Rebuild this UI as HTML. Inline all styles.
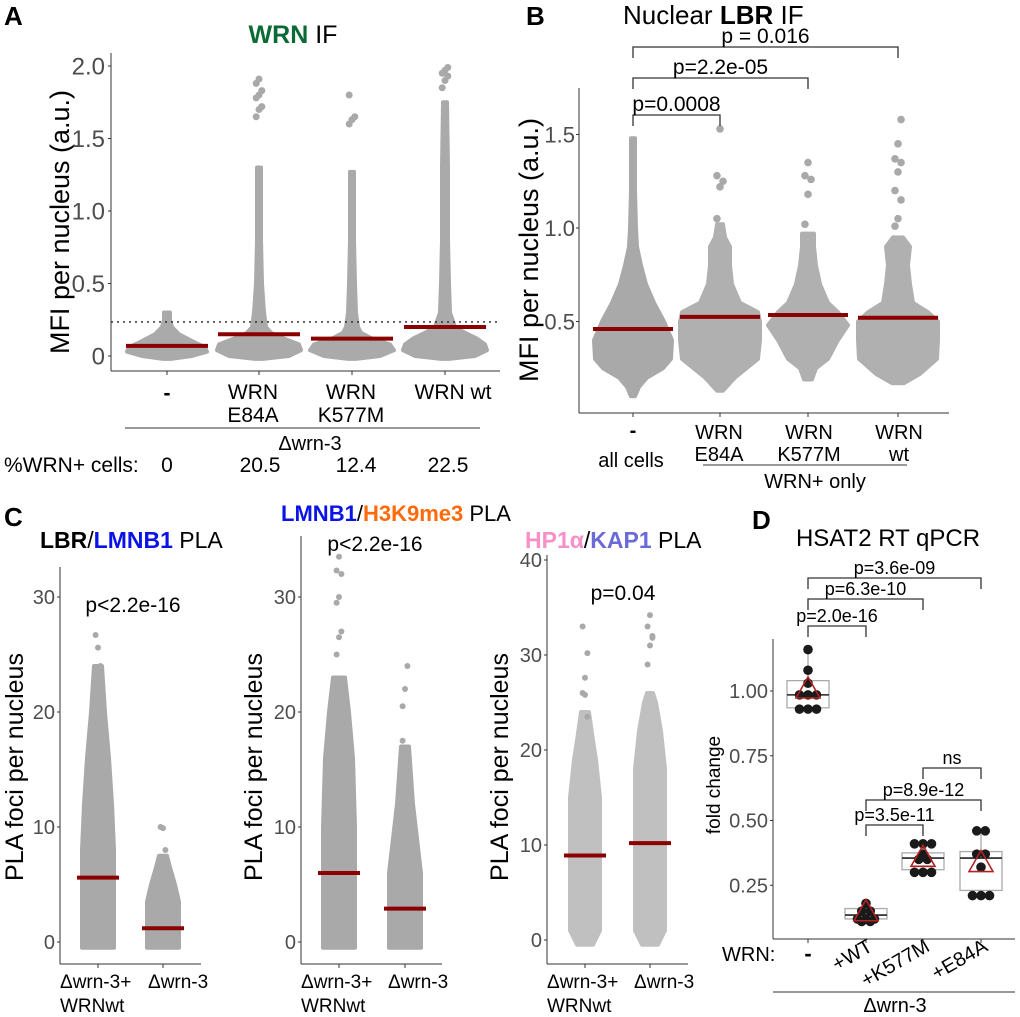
<!DOCTYPE html>
<html><head><meta charset="utf-8"><style>
html,body{margin:0;padding:0;background:#fff;}
svg{display:block;font-family:"Liberation Sans",Arial,sans-serif;}
.tk{fill:#4d4d4d;}
</style></head><body>
<svg id="fig" width="1020" height="1017" viewBox="0 0 1020 1017" xmlns="http://www.w3.org/2000/svg">
<g id="pA">
<text x="4" y="25" font-size="26" font-weight="bold">A</text>
<text x="293" y="43" font-size="25" text-anchor="middle"><tspan fill="#0a6b35" font-weight="bold">WRN</tspan> IF</text>
<text transform="translate(69,222) rotate(-90)" font-size="27" text-anchor="middle">MFI per nucleus (a.u.)</text>
<line x1="111" y1="53" x2="111" y2="371" stroke="#333" stroke-width="1"/>
<line x1="111" y1="371" x2="500" y2="371" stroke="#333" stroke-width="1"/>
<g font-size="21" text-anchor="middle">
<text x="167" y="400" font-weight="bold">-</text>
<text x="253" y="399">WRN</text><text x="253" y="422">E84A</text>
<text x="351" y="399">WRN</text><text x="351" y="422">K577M</text>
<text x="453" y="399">WRN wt</text>
</g>
<line x1="125" y1="428" x2="480" y2="428" stroke="#333"/>
<text x="310" y="450" font-size="20" text-anchor="middle">Δwrn-3</text>
<g font-size="21">
<text x="4" y="472">%WRN+ cells:</text>
<text x="167" y="472" text-anchor="middle">0</text>
<text x="260" y="472" text-anchor="middle">20.5</text>
<text x="356" y="472" text-anchor="middle">12.4</text>
<text x="448" y="472" text-anchor="middle">22.5</text>
</g>
</g>
<g id="pB">
<text x="526" y="25" font-size="26" font-weight="bold">B</text>
<text x="623" y="24" font-size="26">Nuclear <tspan font-weight="bold">LBR</tspan> IF</text>
<text transform="translate(538,250) rotate(-90)" font-size="27" text-anchor="middle">MFI per nucleus (a.u.)</text>
<line x1="579" y1="88" x2="579" y2="413" stroke="#333"/>
<line x1="579" y1="413" x2="949" y2="413" stroke="#333"/>
<g font-size="20" text-anchor="middle">
<text x="633" y="437" font-weight="bold">-</text><text x="631" y="467">all cells</text>
<text x="719" y="439">WRN</text><text x="719" y="461">E84A</text>
<text x="809" y="439">WRN</text><text x="809" y="461">K577M</text>
<text x="899" y="439">WRN</text><text x="899" y="461">wt</text>
</g>
<line x1="703" y1="465" x2="907" y2="465" stroke="#333"/>
<text x="815" y="488" font-size="20" text-anchor="middle">WRN+ only</text>
</g>
<g id="pC">
<text x="4" y="526" font-size="26" font-weight="bold">C</text>
<text x="396" y="521" font-size="22" text-anchor="middle"><tspan fill="#0a14e6" font-weight="bold">LMNB1</tspan>/<tspan fill="#ff6a0a" font-weight="bold">H3K9me3</tspan> PLA</text>
<text x="40" y="548" font-size="23"><tspan font-weight="bold">LBR</tspan>/<tspan fill="#0a14e6" font-weight="bold">LMNB1</tspan> PLA</text>
<text x="525" y="548" font-size="23"><tspan fill="#f78fc8" font-weight="bold">HP1α</tspan>/<tspan fill="#6a6ad8" font-weight="bold">KAP1</tspan> PLA</text>
<g font-size="25" text-anchor="middle">
<text transform="translate(23,767) rotate(-90)">PLA foci per nucleus</text>
<text transform="translate(262,767) rotate(-90)">PLA foci per nucleus</text>
<text transform="translate(508,767) rotate(-90)">PLA foci per nucleus</text>
</g>
<g font-size="21" text-anchor="middle">
<text x="133" y="612">p&lt;2.2e-16</text>
<text x="375" y="551">p&lt;2.2e-16</text>
<text x="623" y="600">p=0.04</text>
</g>
<g font-size="19">
<text x="60" y="988">Δwrn-3+</text><text x="60" y="1012">WRNwt</text><text x="148" y="988">Δwrn-3</text>
<text x="301" y="988">Δwrn-3+</text><text x="301" y="1012">WRNwt</text><text x="388" y="988">Δwrn-3</text>
<text x="547" y="988">Δwrn-3+</text><text x="547" y="1012">WRNwt</text><text x="634" y="988">Δwrn-3</text>
</g>
</g>
<g id="pD">
<text x="752" y="529" font-size="26" font-weight="bold">D</text>
<text x="888" y="546" font-size="24" text-anchor="middle">HSAT2 RT qPCR</text>
<text transform="translate(720,785) rotate(-90)" font-size="19" text-anchor="middle">fold change</text>
<line x1="773" y1="639" x2="773" y2="939" stroke="#333"/>
<line x1="773" y1="939" x2="1015" y2="939" stroke="#333"/>
<text x="722" y="961" font-size="20">WRN:</text>
<text x="808" y="961" font-size="22" font-weight="bold" text-anchor="middle">-</text>
<g font-size="20" text-anchor="end">
<text transform="translate(874,950) rotate(-30)">+WT</text>
<text transform="translate(931,950) rotate(-30)">+K577M</text>
<text transform="translate(989,950) rotate(-30)">+E84A</text>
</g>
<line x1="773" y1="992" x2="1015" y2="992" stroke="#333"/>
<text x="895" y="1012" font-size="20" text-anchor="middle">Δwrn-3</text>
</g>
</svg>
<script>
var NS="http://www.w3.org/2000/svg";
var svg=document.getElementById('fig');
/* ---------- Panel A data ---------- */
var aCats=["-","WRN E84A","WRN K577M","WRN wt"];
var aTicks=[0,0.5,1.0,1.5,2.0];
var aTickLabels=["0","0.5","1.0","1.5","2.0"];
var aMeans=[0.07,0.15,0.12,0.20];
var aThreshold=0.235;
var aLevels=[[-0.02,0.0,0.03,0.06,0.1,0.15,0.2,0.25,0.3],[-0.02,0.0,0.04,0.08,0.12,0.16,0.2,0.3,0.5,0.8,1.3],[-0.02,0.0,0.04,0.08,0.12,0.16,0.2,0.3,0.5,0.8,1.27],[-0.02,0.0,0.04,0.08,0.12,0.16,0.2,0.3,0.5,0.8,1.3,1.75]];
var aWidths=[[4,25,40,38,26,12,5,3,3],[4,30,42,40,25,12,7,5,3,2,2],[4,28,42,38,20,9,6,4,3,2,2],[4,30,42,40,32,20,10,5,4,3,3,2]];
var aOut=[[],[1.65,1.7,1.72,1.78,1.8,1.83,1.88,1.91],[1.6,1.63,1.65,1.8],[1.85,1.9,1.93,1.95,1.97,1.99]];
/* ---------- Panel B data ---------- */
var bCats=["all cells","WRN E84A","WRN K577M","WRN wt"];
var bTicks=[0.5,1.0,1.5];
var bTickLabels=["0.5","1.0","1.5"];
var bMeans=[0.46,0.525,0.535,0.52];
var bLevels=[[0.1,0.15,0.2,0.25,0.3,0.4,0.5,0.6,0.7,0.8,0.9,1.0,1.2,1.48],[0.13,0.2,0.3,0.4,0.5,0.55,0.6,0.7,0.8,0.9,0.95,1.02],[0.19,0.25,0.3,0.4,0.48,0.55,0.6,0.7,0.8,0.9,0.97],[0.17,0.22,0.3,0.4,0.5,0.55,0.6,0.7,0.8,0.9,0.95]];
var bWidths=[[2,6,14,30,38,39,31,21,13,8,4,3,2,2],[3,15,38,40,40,38,20,12,10,10,5,3],[4,8,20,30,40,30,20,12,8,6,6],[6,22,39,40,40,30,15,12,10,12,5]];
var bOut=[[],[1.05,1.22,1.25,1.28,1.53],[1.02,1.18,1.26,1.28,1.35],[1.01,1.05,1.15,1.2,1.3,1.35,1.37,1.45,1.58]];
var bBrackets=[[0,1,"p=0.0008"],[0,2,"p=2.2e-05"],[0,3,"p = 0.016"]];
/* ---------- Panel C data ---------- */
var cTicksA=[0,10,20,30];
var cTicksB=[0,10,20,30,40];
var c1Means=[5.6,1.2];
var c2Means=[6.0,2.9];
var c3Means=[8.9,10.2];
var c1Levels=[[-0.5,8,12,16,20,24],[-0.5,3.5,5,6.5,7.5]];
var c1Widths=[[16,16,14,11,7,4],[16,16,12,7,4]];
var c1Out=[[26.7,25.6,24,23.8,23.5,22],[10,9.9,8,7.2,6.5]];
var c2Levels=[[-0.5,10,16,20,23],[-0.5,6,9,12,17]];
var c2Widths=[[16,16,14,10,6],[16,16,12,8,4]];
var c2Out=[[25,26.5,27,29.5,30,32,32.3,33.5],[20.5,22,24,17.5,16.8]];
var c3Levels=[[-0.5,1,15,19,21,24],[-0.5,1,18,22,25,26]];
var c3Widths=[[8,15,15,11,8,4],[8,15,15,11,6,3]];
var c3Out=[[26,27.6,30.2,33,25.8,23.5],[29,31,31.8,33,34.2,32]];
/* ---------- Panel D data ---------- */
var dCats=["-","+WT","+K577M","+E84A"];
var dTicks=[0.25,0.5,0.75,1.0];
var dTickLabels=["0.25","0.50","0.75","1.00"];
var dQ1=[0.935,0.12,0.31,0.23];
var dMed=[0.985,0.135,0.355,0.355];
var dQ3=[1.04,0.16,0.375,0.38];
var dWLo=[0.93,0.11,0.29,0.21];
var dWHi=[1.16,0.18,0.41,0.46];
var dMean=[1.0,0.14,0.35,0.33];
var dPoints=[[1.16,1.08,1.03,0.985,0.985,0.985,0.93,0.93,0.93],[0.18,0.15,0.15,0.12,0.12,0.12,0.11,0.11],[0.41,0.41,0.41,0.37,0.35,0.35,0.30,0.30,0.30],[0.46,0.46,0.37,0.37,0.32,0.21,0.21,0.21]];
var dBrackets=[[0,1,"p=2.0e-16",0],[0,2,"p=6.3e-10",1],[0,3,"p=3.6e-09",2],[2,3,"ns",3],[1,3,"p=8.9e-12",4],[1,2,"p=3.5e-11",5]];

/* ---------- scales ---------- */
function xA(i){return [167,259,352,445][i];}
function yA(v){return 356-v*145;}
function xB(i){return [633,720,808,898][i];}
function yB(v){return 415-v*187;}
function yC(v){return 942-v*11.5;}
function yC3(v){return 940-v*9.5;}
function xD(i){return [808,866,923,981][i];}
function yD(v){return 950-v*259;}

function mk(tag,attrs,parent){var e=document.createElementNS(NS,tag);for(var k in attrs)e.setAttribute(k,attrs[k]);(parent||svg).appendChild(e);return e;}

function violin(cx,levels,widths,yf,fill,nm){
  var pts=[];
  for(var i=0;i<levels.length;i++)pts.push((cx+widths[i])+","+yf(levels[i]));
  for(var j=levels.length-1;j>=0;j--)pts.push((cx-widths[j])+","+yf(levels[j]));
  var p=mk('polygon',{points:pts.join(' '),fill:fill,stroke:fill,'stroke-width':4,'stroke-linejoin':'round'});
  
  
}
function dots(cx,vals,yf,r,nm){
  for(var i=0;i<vals.length;i++){
    var off=((i%3)-1)*r*0.8;
    var c=mk('circle',{cx:cx+off,cy:yf(vals[i]),r:r,fill:'#a9a9a9'});
    
    
  }
}
function meanLine(cx,v,yf,hw,nm){
  var l=mk('line',{x1:cx-hw,x2:cx+hw,y1:yf(v),y2:yf(v),stroke:'#8b0000','stroke-width':4});
  
  
}
function yTicks(ax,ticks,labels,yf,fs,tx){
  for(var i=0;i<ticks.length;i++){
    var t=mk('text',{x:tx,y:yf(ticks[i])+fs*0.36,'font-size':fs,'text-anchor':'end','class':'tk'});
    t.textContent=labels[i];
    
    
    var l=mk('line',{x1:ax-3,x2:ax,y1:yf(ticks[i]),y2:yf(ticks[i]),stroke:'#333'});
    
    
  }
}
function xTicks(xs,y){
  for(var i=0;i<xs.length;i++){
    var l=mk('line',{x1:xs[i],x2:xs[i],y1:y,y2:y+4,stroke:'#333'});
    
    
  }
}
function bracket(x1,x2,y,d1,d2,label,fs,nm){
  var p=mk('path',{d:'M'+x1+','+(y+d1)+' V'+y+' H'+x2+' V'+(y+d2),fill:'none',stroke:'#333','stroke-width':1.3});
  
  
  var t=mk('text',{x:(x1+x2)/2,y:y-4,'font-size':fs,'text-anchor':'middle'});
  t.textContent=label;
  
  
}

/* ---------- Panel A ---------- */
yTicks(111,aTicks,aTickLabels,yA,24,105);
xTicks([0,1,2,3].map(xA),371);
for(var i=0;i<aCats.length;i++){
  violin(xA(i),aLevels[i],aWidths[i],yA,'#aaaaaa','panel-a-swarm');
  dots(xA(i),aOut[i],yA,3.5,'panel-a-point');
}
var th=mk('line',{x1:111,x2:500,y1:yA(aThreshold),y2:yA(aThreshold),stroke:'#222','stroke-dasharray':'2,4','stroke-width':1.3});


for(var i=0;i<aMeans.length;i++)meanLine(xA(i),aMeans[i],yA,41,'panel-a-mean-line');

/* ---------- Panel B ---------- */
yTicks(579,bTicks,bTickLabels,yB,22,575);
xTicks([0,1,2,3].map(xB),413);
for(var i=0;i<bCats.length;i++){
  violin(xB(i),bLevels[i],bWidths[i],yB,i==0?'#a9a9a9':'#b0b0b0','panel-b-swarm');
  dots(xB(i),bOut[i],yB,3.8,'panel-b-point');
}
for(var i=0;i<bMeans.length;i++)meanLine(xB(i),bMeans[i],yB,40,'panel-b-mean-line');
var bY=[115,78,47];
for(var i=0;i<bBrackets.length;i++)bracket(xB(bBrackets[i][0]),xB(bBrackets[i][1]),bY[i],11,11,bBrackets[i][2],21,'panel-b-bracket');

/* ---------- Panel C ---------- */
function cPanel(ax,top,cxs,levels,widths,outs,means,ticks,yf,fill){
  var a=mk('line',{x1:ax,x2:ax,y1:top,y2:964,stroke:'#333'});
  
  
  var b=mk('line',{x1:ax,x2:ax+141,y1:964,y2:964,stroke:'#333'});
  
  
  yTicks(ax,ticks,ticks.map(String),yf,20,ax-5);
  xTicks(cxs,964);
  for(var i=0;i<2;i++){
    violin(cxs[i],levels[i],widths[i],yf,fill,'panel-c-strip');
    dots(cxs[i],outs[i],yf,3,'panel-c-point');
  }
  for(var i=0;i<2;i++)meanLine(cxs[i],means[i],yf,21,'panel-c-mean-line');
}
cPanel(60,567,[98,163],c1Levels,c1Widths,c1Out,c1Means,cTicksA,yC,'#a9a9a9');
cPanel(301,536,[339,405],c2Levels,c2Widths,c2Out,c2Means,cTicksA,yC,'#a9a9a9');
cPanel(547,555,[585,650],c3Levels,c3Widths,c3Out,c3Means,cTicksB,yC3,'#c0c0c0');

/* ---------- Panel D ---------- */
yTicks(773,dTicks,dTickLabels,yD,20,768);
xTicks([0,1,2,3].map(xD),939);
var dY=[626,599,578,768,800,825];
for(var i=0;i<dBrackets.length;i++){
  bracket(xD(dBrackets[i][0]),xD(dBrackets[i][1]),dY[dBrackets[i][3]],11,11,dBrackets[i][2],18,'panel-d-bracket');
}
for(var i=0;i<dCats.length;i++){
  var cx=xD(i);
  var w=mk('line',{x1:cx,x2:cx,y1:yD(dWLo[i]),y2:yD(dWHi[i]),stroke:'#aaa','stroke-width':1.3});
  
  
  var r=mk('rect',{x:cx-21,y:yD(dQ3[i]),width:42,height:yD(dQ1[i])-yD(dQ3[i]),fill:'#fff',stroke:'#aaa','stroke-width':1.3});
  
  
  var m=mk('line',{x1:cx-21,x2:cx+21,y1:yD(dMed[i]),y2:yD(dMed[i]),stroke:'#222','stroke-width':1.6});
  
  
  var pts=dPoints[i];
  var counts={};
  for(var j=0;j<pts.length;j++){counts[pts[j]]=(counts[pts[j]]||0)+1;}
  var seen={};
  for(var j=0;j<pts.length;j++){
    var n=counts[pts[j]];var k=seen[pts[j]]||0;seen[pts[j]]=k+1;
    var c=mk('circle',{cx:cx+(k-(n-1)/2)*8.5,cy:yD(pts[j]),r:4.8,fill:'#1a1a1a'});
    
    
  }
  var my=yD(dMean[i]);
  var tr=mk('polygon',{points:cx+','+(my-14)+' '+(cx-12)+','+(my+7)+' '+(cx+12)+','+(my+7),fill:'none',stroke:'#b22222','stroke-width':1.6});
  
  
}
</script>
</body></html>
